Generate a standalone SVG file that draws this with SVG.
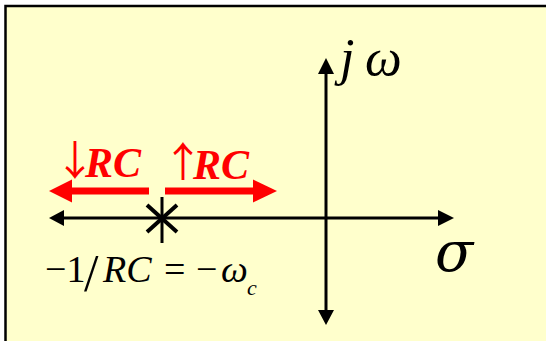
<svg xmlns="http://www.w3.org/2000/svg" width="546" height="341" viewBox="0 0 546 341">
<style>
.ax{stroke:#000;stroke-width:3;fill:none}
.ah{fill:#000}
.red{fill:#FF0000}
.serif{font-family:"Liberation Serif","Times New Roman",serif}
.arr{font-family:"Noto Sans CJK JP",sans-serif;font-size:41px;font-weight:normal;font-style:normal}
.rc{font-family:"Liberation Serif","Times New Roman",serif;font-size:42px;font-weight:bold;font-style:italic}
.it{font-style:italic}
</style>
<rect x="0" y="0" width="546" height="341" fill="#FFFFFF"/>
<rect x="5.5" y="6" width="560" height="360" fill="#FFFFCC" stroke="#000" stroke-width="2.5"/>
<g id="connectors">
  <line class="ax" x1="62" y1="218" x2="442" y2="218"/>
  <polygon class="ah" points="49,218 64,210 64,226"/>
  <polygon class="ah" points="454,218 438,210 438,226"/>
  <line class="ax" x1="326" y1="70" x2="326" y2="314"/>
  <polygon class="ah" points="326,58 318,74 334,74"/>
  <polygon class="ah" points="326,325 318,310 334,310"/>
  <rect class="red" x="70" y="187.5" width="79" height="7"/>
  <polygon class="red" points="49,191 72,179.5 72,202.5"/>
  <rect class="red" x="165" y="187.5" width="90" height="7"/>
  <polygon class="red" points="277,191 253,179.5 253,202.5"/>
</g>
<g id="pole">
  <line x1="162" y1="197" x2="162" y2="243" stroke="#000" stroke-width="3"/>
  <line x1="147" y1="205" x2="177" y2="232" stroke="#000" stroke-width="4"/>
  <line x1="147" y1="232" x2="177" y2="205" stroke="#000" stroke-width="4"/>
</g>
<g id="label-down" class="red">
  <text class="rc"><tspan class="arr" x="54.5" y="175">↓</tspan><tspan x="85" y="177">RC</tspan></text>
</g>
<g id="label-up" class="red">
  <text class="rc"><tspan class="arr" x="162.5" y="177">↑</tspan><tspan x="193" y="179">RC</tspan></text>
</g>
<g id="label-pole" class="serif" fill="#000">
  <text y="282" font-size="38"><tspan x="45">−1</tspan><tspan x="84" y="291" font-size="52">/</tspan><tspan x="103" y="282" class="it">RC</tspan><tspan x="164">=</tspan><tspan x="196">−</tspan><tspan x="221" class="it">ω</tspan><tspan x="247" y="295" font-size="22" class="it">c</tspan></text>
</g>
<g id="label-jw" class="serif it" fill="#000">
  <text y="75" font-size="52"><tspan x="340">j</tspan><tspan x="365">ω</tspan></text>
</g>
<g id="label-sigma" fill="#000">
  <text x="435" y="271" font-size="56" font-family="DejaVu Serif" font-style="italic">σ</text>
</g>
</svg>
